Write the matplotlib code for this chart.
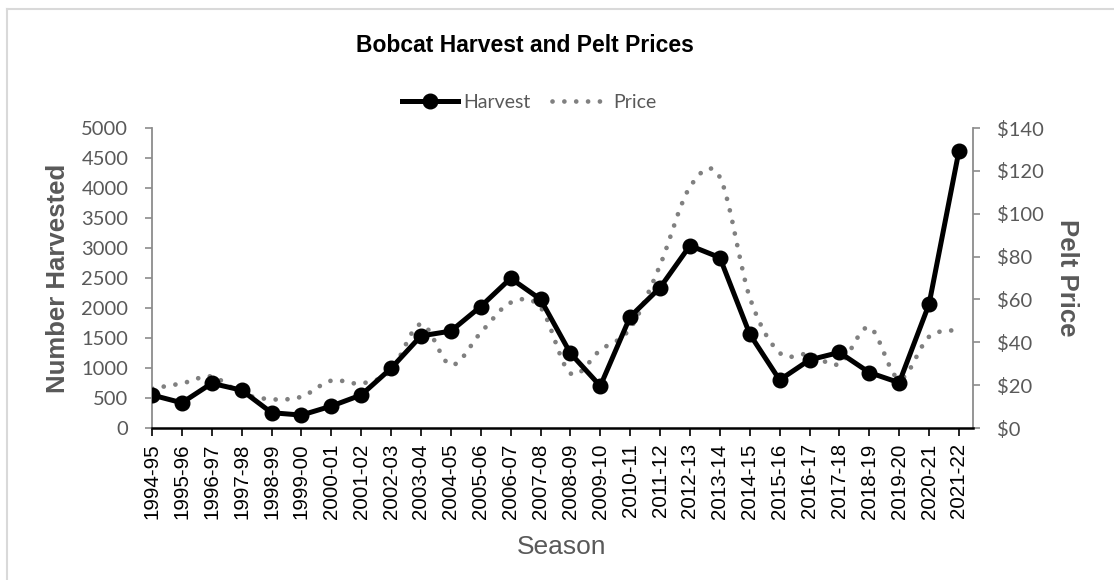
import matplotlib
matplotlib.use("Agg")
import matplotlib.pyplot as plt
from matplotlib.path import Path
from matplotlib.patches import PathPatch
from matplotlib.lines import Line2D
import numpy as np

seasons = ["1994-95", "1995-96", "1996-97", "1997-98", "1998-99", "1999-00",
           "2000-01", "2001-02", "2002-03", "2003-04", "2004-05", "2005-06",
           "2006-07", "2007-08", "2008-09", "2009-10", "2010-11", "2011-12",
           "2012-13", "2013-14", "2014-15", "2015-16", "2016-17", "2017-18",
           "2018-19", "2019-20", "2020-21", "2021-22"]
harvest = [550, 420, 745, 630, 255, 215, 365, 550, 995, 1535,
           1615, 2025, 2495, 2145, 1245, 700, 1855, 2340, 3040, 2840,
           1565, 800, 1135, 1260, 925, 755, 2065, 4620]
price = [18.5, 20.8, 24.0, 16.2, 13.4, 14.6, 22.1, 20.8, 26.8, 48.5,
         29.4, 44.5, 58.5, 56.3, 25.5, 36.4, 46.5, 76.0, 112.5, 117.0,
         61.0, 35.1, 34.5, 29.9, 47.0, 22.9, 42.6, 45.7]

grey = "#595959"
axis_grey = "#8c8c8c"
W, H = 1114, 580

fig = plt.figure(figsize=(11.14, 5.8), dpi=100)
ax = fig.add_axes([152 / W, 1 - 428 / H, (973 - 152) / W, 300 / H])
ax2 = ax.twinx()

x = np.arange(len(seasons))

# smoothed dotted price line (bezier through the points, like excel)
pts = np.column_stack([x, price]).astype(float)
verts = [tuple(pts[0])]
codes = [Path.MOVETO]
n = len(pts)
for i in range(n - 1):
    p0 = pts[max(i - 1, 0)]
    p1 = pts[i]
    p2 = pts[i + 1]
    p3 = pts[min(i + 2, n - 1)]
    c1 = p1 + (p2 - p0) / 6
    c2 = p2 - (p3 - p1) / 6
    verts += [tuple(c1), tuple(c2), tuple(p2)]
    codes += [Path.CURVE4] * 3
patch = PathPatch(Path(verts, codes), facecolor="none", edgecolor="#808080",
                  lw=3.4, linestyle=(0, (0.01, 2.5)), capstyle="round", zorder=1)
ax2.add_patch(patch)

ax.plot(x, harvest, color="black", lw=3.6, marker="o", ms=10.5, zorder=5,
        solid_joinstyle="round")
ax.set_zorder(ax2.get_zorder() + 1)
ax.patch.set_visible(False)

ax.set_xlim(0, 27.47)
ax.set_ylim(0, 5000)
ax2.set_ylim(0, 140)
ax.set_yticks(range(0, 5001, 500))
ax2.set_yticks(range(0, 141, 20))
ax2.set_yticklabels(["$" + str(v) for v in range(0, 141, 20)])
ax.set_xticks(x)
ax.set_xticklabels(seasons, rotation=90, fontsize=14.8, family="Liberation Sans")

for a in (ax, ax2):
    a.spines["top"].set_visible(False)
ax.spines["right"].set_visible(False)
ax.spines["left"].set_color(axis_grey)
ax.spines["left"].set_linewidth(1.3)
ax.spines["bottom"].set_color("black")
ax.spines["bottom"].set_linewidth(1.8)
ax2.spines["left"].set_visible(False)
ax2.spines["bottom"].set_visible(False)
ax2.spines["right"].set_color(axis_grey)
ax2.spines["right"].set_linewidth(1.3)

ax.tick_params(axis="y", colors=axis_grey, labelcolor=grey, labelsize=14.5, length=5, width=1.2, pad=12)
ax2.tick_params(axis="y", colors=axis_grey, labelcolor=grey, labelsize=14.5, length=5, width=1.2, pad=12)
ax.tick_params(axis="x", colors="black", length=6, width=1.2, pad=5)
for lab in ax.get_yticklabels() + ax2.get_yticklabels():
    lab.set_family("Lato")

# axis titles
fig.text(58 / W, 1 - 278 / H, "Number Harvested", rotation=90, ha="center", va="center",
         fontsize=18.5, fontweight="bold", color=grey, family="Liberation Sans")
fig.text(1067 / W, 1 - 278 / H, "Pelt Price", rotation=270, ha="center", va="center",
         fontsize=18.5, fontweight="bold", color=grey, family="Liberation Sans")
fig.text(562 / W, 1 - 547 / H, "Season", ha="center", va="center",
         fontsize=19, color=grey, family="Liberation Sans")

fig.text(525 / W, 1 - 45 / H, "Bobcat Harvest and Pelt Prices", ha="center", va="center",
         fontsize=16.5, fontweight="bold", family="Liberation Sans")

handles = [Line2D([], [], color="black", lw=3.6, marker="o", ms=10.5),
           Line2D([], [], color="#808080", lw=3.4, linestyle=(0, (0.01, 2.5)),
                  dash_capstyle="round")]
fig.legend(handles, ["Harvest", "Price"], loc="center", bbox_to_anchor=(529 / W, 1 - 102 / H),
           ncol=2, frameon=False, prop={"family": "Lato", "size": 14}, labelcolor=grey,
           handlelength=2.9, handletextpad=0.25, columnspacing=1.1)

# chart area border (only top and left visible)
fig.add_artist(Line2D([7 / W, 7 / W], [0, 1 - 9 / H], transform=fig.transFigure,
                      color="#d9d9d9", lw=1.5))
fig.add_artist(Line2D([7 / W, 1], [1 - 9 / H, 1 - 9 / H], transform=fig.transFigure,
                      color="#d9d9d9", lw=1.5))

fig.savefig("out.png", dpi=100)
